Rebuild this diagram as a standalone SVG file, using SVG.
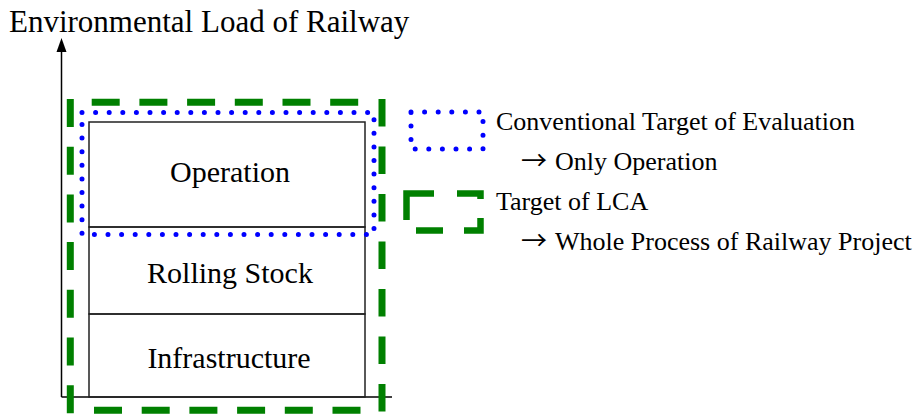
<svg xmlns="http://www.w3.org/2000/svg" width="915" height="417" viewBox="0 0 915 417">
  <style>
    .t { font-family: "Liberation Serif", "Times New Roman", serif; fill: #000; }
    .title { font-size: 31px; }
    .big { font-size: 30px; }
    .leg { font-size: 26px; }
    .arr { font-family: "Noto Sans CJK JP", "DejaVu Sans", sans-serif; font-size: 26px; }
    .ln { stroke: #222; stroke-width: 1.5; fill: none; }
    .dot { stroke: #0000ff; stroke-width: 5; fill: none; stroke-linecap: round; stroke-dasharray: 0 13.6; }
    .dash { stroke: #008000; stroke-width: 7; fill: none; stroke-dasharray: 28 19.7; }
    .dashseg { stroke: #008000; stroke-width: 6.5; fill: none; }
  </style>

  <!-- title of vertical axis -->
  <text class="t title" x="9" y="31.5">Environmental Load of Railway</text>

  <!-- axes -->
  <g id="axes">
    <line x1="61.5" y1="50" x2="61.5" y2="397" stroke="#000" stroke-width="1.5"/>
    <polygon points="61.5,38 56.5,52 66.5,52" fill="#000"/>
    <line x1="61.5" y1="397" x2="392" y2="397" stroke="#000" stroke-width="1.5"/>
  </g>

  <!-- stacked load components -->
  <g id="operation">
    <rect class="ln" x="89" y="122" width="276" height="105"/>
    <text class="t big" x="230" y="182" text-anchor="middle">Operation</text>
  </g>
  <g id="rolling-stock">
    <rect class="ln" x="89" y="227" width="276" height="87"/>
    <text class="t big" x="230" y="283" text-anchor="middle">Rolling Stock</text>
  </g>
  <g id="infrastructure">
    <rect class="ln" x="89" y="314" width="276" height="83"/>
    <text class="t big" x="229" y="367.5" text-anchor="middle">Infrastructure</text>
  </g>

  <!-- evaluation boundaries -->
  <g id="conventional-target">
    <rect class="dot" x="82" y="112.5" width="292" height="122"/>
  </g>
  <g id="lca-target">
    <line class="dash" x1="70.3" y1="99" x2="70.3" y2="414"/>
    <line class="dash" x1="382" y1="99" x2="382" y2="414" style="stroke-dasharray:27.6 19.9"/>
    <line class="dash" x1="91.7" y1="102.3" x2="360" y2="102.3"/>
    <line class="dash" x1="94" y1="410.3" x2="362" y2="410.3"/>
  </g>

  <!-- legend -->
  <g id="legend-conventional">
    <rect class="dot" x="411" y="112" width="72" height="37"/>
    <text class="t leg" x="496" y="129.5">Conventional Target of Evaluation</text>
    <text class="arr" x="521" y="170">→</text>
    <text class="t leg" x="555" y="170">Only Operation</text>
  </g>
  <g id="legend-lca">
    <polyline class="dashseg" points="406.5,220 406.5,193.5 434,193.5"/>
    <polyline class="dashseg" points="457,193.5 480.5,193.5 480.5,199"/>
    <polyline class="dashseg" points="480.5,218 480.5,230.5 464,230.5"/>
    <polyline class="dashseg" points="443,230.5 416,230.5"/>
    <text class="t leg" x="496" y="210">Target of LCA</text>
    <text class="arr" x="521" y="250">→</text>
    <text class="t leg" x="555" y="250">Whole Process of Railway Project</text>
  </g>
</svg>
